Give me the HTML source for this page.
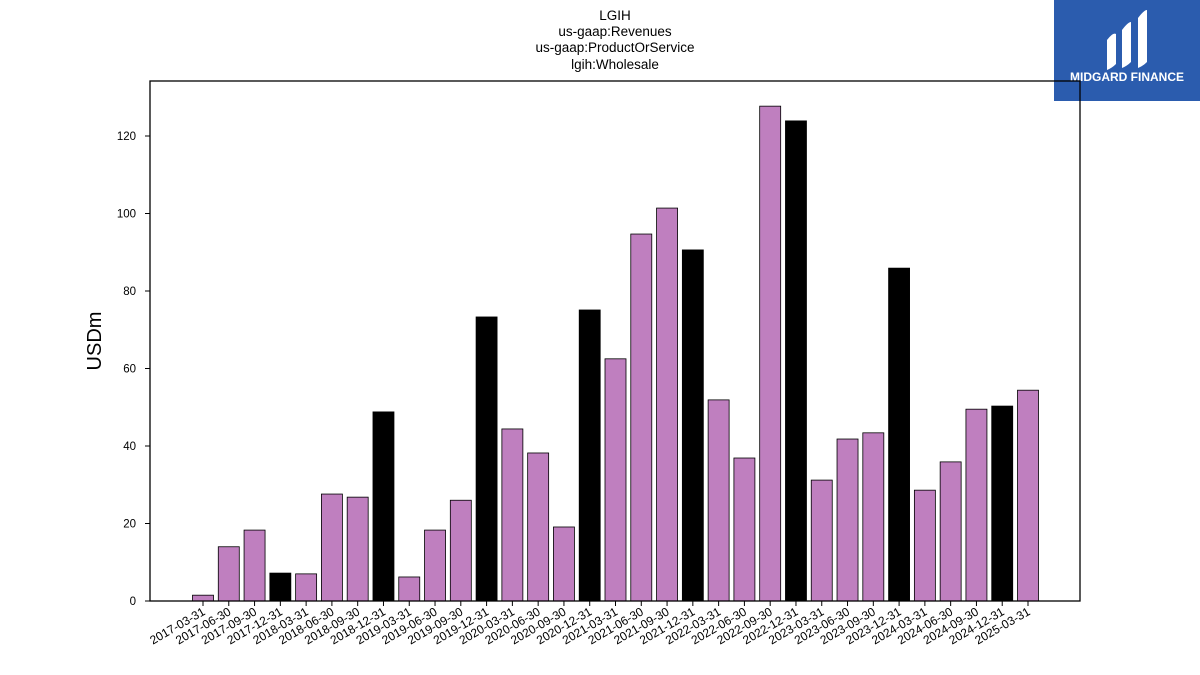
<!DOCTYPE html>
<html><head><meta charset="utf-8"><style>
body{margin:0;background:#fff;font-family:"Liberation Sans","DejaVu Sans",sans-serif}
</style></head><body>
<svg width="1200" height="675" viewBox="0 0 1200 675" style="display:block">
<g font-size="13.5" text-anchor="middle" fill="#000">
<text x="615" y="20">LGIH</text><text x="615" y="36">us-gaap:Revenues</text><text x="615" y="52">us-gaap:ProductOrService</text><text x="615" y="69">lgih:Wholesale</text>
</g>
<g>
<rect x="1054" y="0" width="146" height="101" fill="#2b5cae"/>
<path d="M1107 40 q6-8 9-6 v30 q-4 4-9 6z M1122 30 q6-8 9-8 v40 q-4 4-9 6z M1138 18 q6-8 9-8 v52 q-4 4-9 6z" fill="#fff"/>
<text x="1127" y="81" font-size="12" font-weight="bold" fill="#fff" text-anchor="middle">MIDGARD FINANCE</text>
</g>
<text x="101" y="341" font-size="20" text-anchor="middle" transform="rotate(-90 101 341)">USDm</text>
<g id="bars"></g>
<g id="yticks"></g>
<g id="xticks"></g>
<rect x="150" y="81" width="930" height="520" fill="none" stroke="#000" stroke-width="1.3"/>
</svg>
<script>
const categories=["2017-03-31","2017-06-30","2017-09-30","2017-12-31","2018-03-31","2018-06-30","2018-09-30","2018-12-31","2019-03-31","2019-06-30","2019-09-30","2019-12-31","2020-03-31","2020-06-30","2020-09-30","2020-12-31","2021-03-31","2021-06-30","2021-09-30","2021-12-31","2022-03-31","2022-06-30","2022-09-30","2022-12-31","2023-03-31","2023-06-30","2023-09-30","2023-12-31","2024-03-31","2024-06-30","2024-09-30","2024-12-31","2025-03-31"];
const values=[1.5,14,18.3,7.2,7,27.6,26.8,48.8,6.2,18.3,26,73.3,44.4,38.2,19.1,75.1,62.5,94.7,101.4,90.6,51.9,36.9,127.7,123.9,31.2,41.8,43.4,85.9,28.6,35.9,49.5,50.3,54.4];
const yTicks=[0,20,40,60,80,100,120];
const NS="http://www.w3.org/2000/svg";
const y=v=>601-v*3.875;
const x=i=>203+i*(1028-203)/(categories.length-1);
const bw=21;
function mk(t,a,p){const e=document.createElementNS(NS,t);for(const k in a)e.setAttribute(k,a[k]);p.appendChild(e);return e;}
const bars=document.getElementById('bars'),yt=document.getElementById('yticks'),xt=document.getElementById('xticks');
values.forEach((v,i)=>{
 const q4=categories[i].endsWith("12-31");
 const r=mk('rect',{x:x(i)-bw/2,y:y(v),width:bw,height:601-y(v),fill:q4?'#000':'#bf7fbf',stroke:'#000','stroke-width':0.8},bars);
 
 
 mk('line',{x1:x(i),x2:x(i),y1:601,y2:606,stroke:'#000'},xt);
 const t=mk('text',{x:x(i)+3,y:614,'font-size':12,'text-anchor':'end',transform:`rotate(-30 ${x(i)+3} 614)`},xt);
 t.textContent=categories[i];
 
 
});
yTicks.forEach(v=>{
 mk('line',{x1:145,x2:150,y1:y(v),y2:y(v),stroke:'#000'},yt);
 const t=mk('text',{x:136,y:y(v)+4,'font-size':11.5,'text-anchor':'end'},yt);
 t.textContent=v;
 
 
});
</script>
</body></html>
